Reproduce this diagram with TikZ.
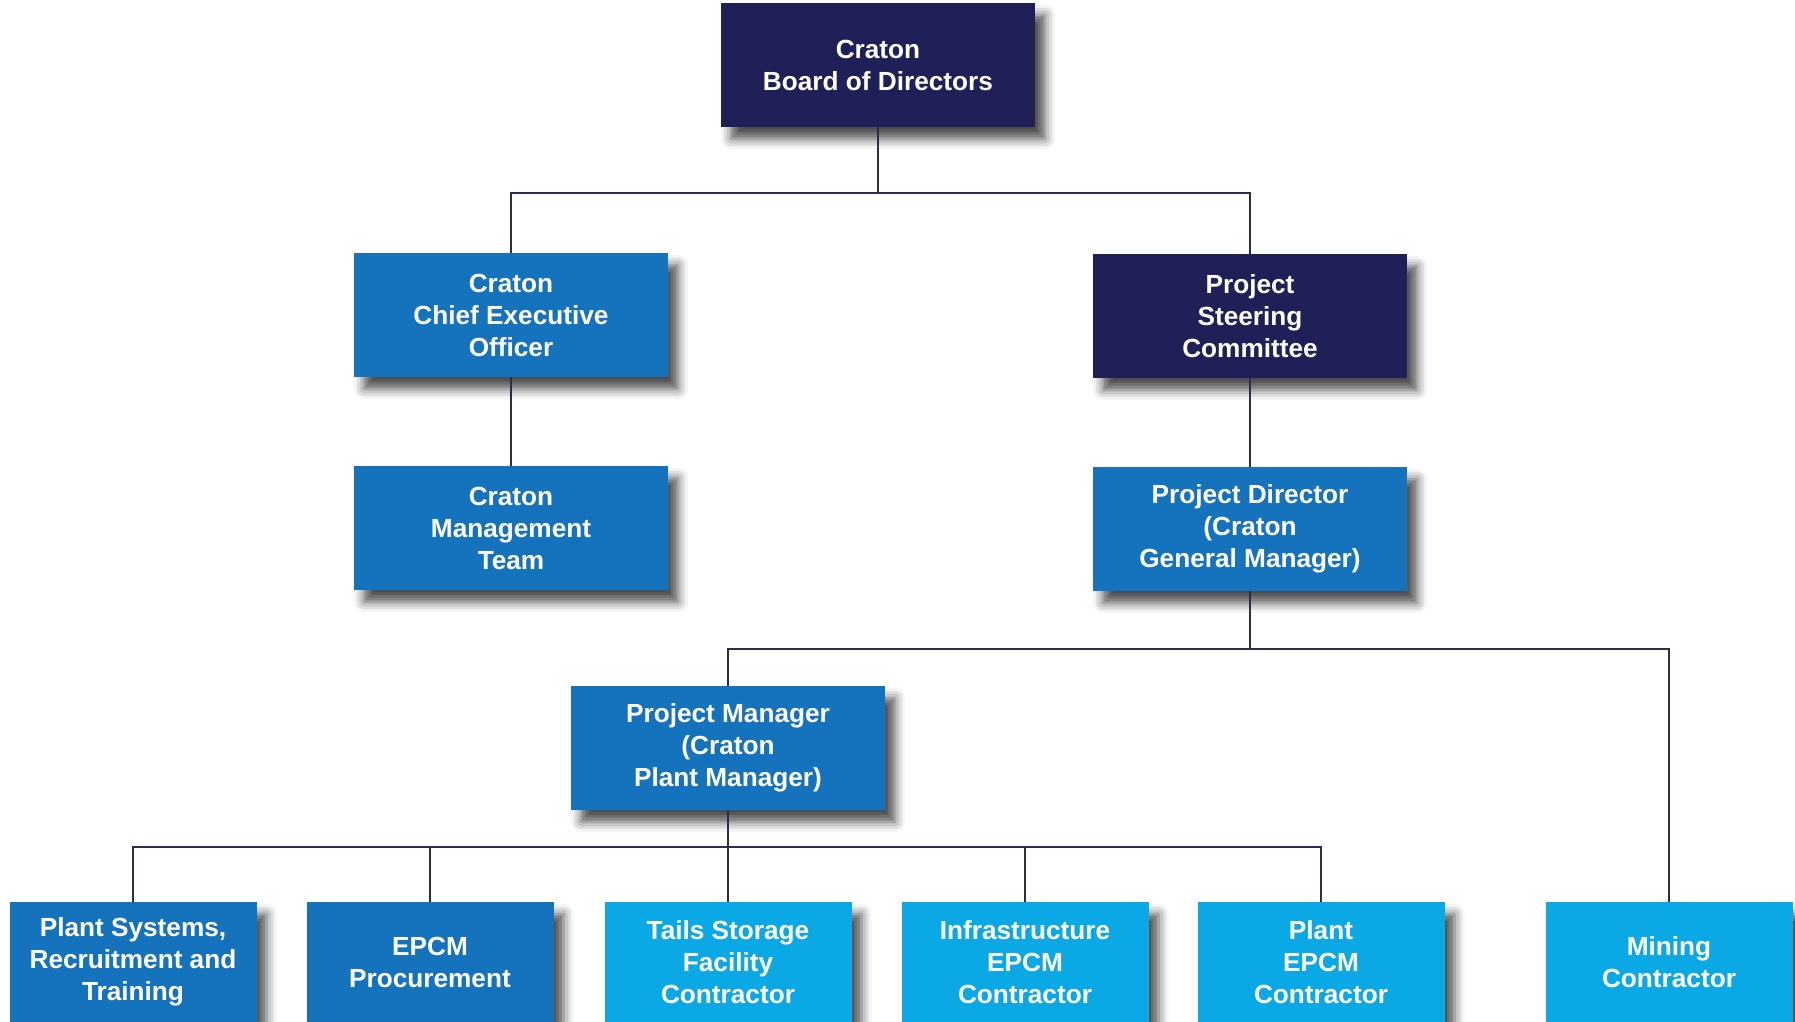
\documentclass[tikz,border=0pt]{standalone}
\usepackage{fontspec}
\setmainfont{Liberation Sans}
\usetikzlibrary{shadows.blur}
\definecolor{navy}{RGB}{32,32,88}
\definecolor{midblue}{RGB}{21,114,189}
\definecolor{skyblue}{RGB}{11,168,230}
\definecolor{wire}{RGB}{45,45,75}

\begin{document}
\begin{tikzpicture}[x=0.5pt,y=-0.5pt]
                      \tikzstyle{box}=[rectangle,inner sep=0pt,minimum width=157pt,minimum height=62pt,text=white,align=center,font=\bfseries\fontsize{13.1}{16}\selectfont,blur shadow={shadow xshift=5pt,shadow yshift=-6pt,shadow blur radius=5pt,shadow opacity=70}]
                      \tikzstyle{small}=[box,minimum width=123.5pt,minimum height=60pt]
                      \tikzstyle{line}=[draw=wire,line width=1.35pt]
                      \useasboundingbox (0,0) rectangle (1795,1022);
                      \node[box,fill=navy] (board) at (878,65) {Craton\\Board of Directors};
                      \node[box,fill=midblue] (ceo) at (511,315) {Craton\\Chief Executive\\Officer};
                      \node[box,fill=navy] (psc) at (1250,316) {Project\\Steering\\Committee};
                      \node[box,fill=midblue] (mt) at (511,528) {Craton\\Management\\Team};
                      \node[box,fill=midblue] (pd) at (1250,529) {Project Director\\(Craton\\General Manager)};
                      \node[box,fill=midblue] (pm) at (728,748) {Project Manager\\(Craton\\Plant Manager)};
                      \node[small,fill=midblue] (ps) at (133,962) {Plant Systems,\\Recruitment and\\Training};
                      \node[small,fill=midblue] (proc) at (430,962) {EPCM\\Procurement};
                      \node[small,fill=skyblue] (tsf) at (728,962) {Tails Storage\\Facility\\Contractor};
                      \node[small,fill=skyblue] (infra) at (1025,962) {Infrastructure\\EPCM\\Contractor};
                      \node[small,fill=skyblue] (plant) at (1321,962) {Plant\\EPCM\\Contractor};
                      \node[small,fill=skyblue] (mining) at (1669,962) {Mining\\Contractor};
                      \coordinate (bus1) at (878,193);
                      \coordinate (bus2) at (1250,649);
                      \coordinate (bus3) at (728,847);
                      \draw[line] (board) -- (bus1) -| (ceo);
                      \draw[line] (bus1) -| (psc);
                      \draw[line] (ceo) -- (mt);
                      \draw[line] (psc) -- (pd);
                      \draw[line] (pd) -- (bus2) -| (pm);
                      \draw[line] (bus2) -| (mining);
                      \draw[line] (pm) -- (bus3);
                      \foreach \c in {ps,proc,tsf,infra,plant} \draw[line] (bus3) -| (\c);
                  \end{tikzpicture}
\end{document}
